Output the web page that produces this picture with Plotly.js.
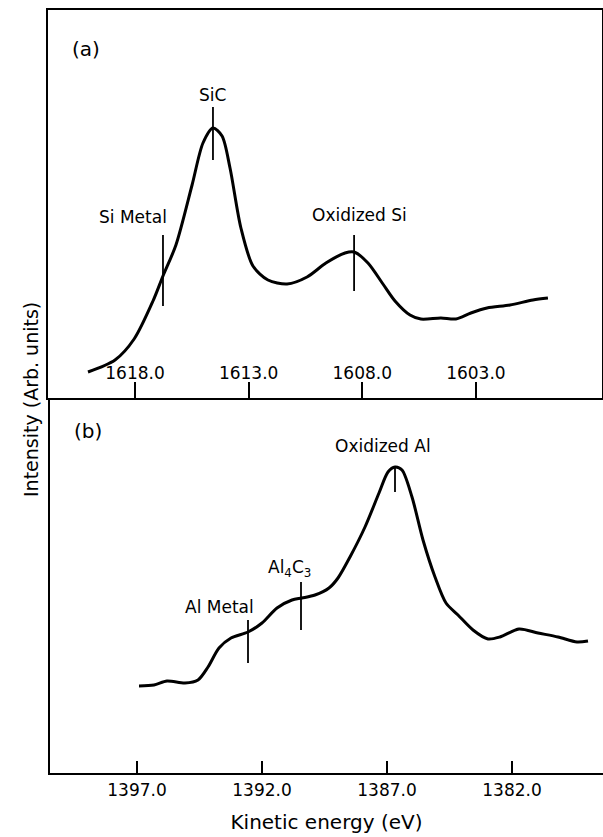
<!DOCTYPE html>
<html>
<head>
<meta charset="utf-8">
<script src="https://cdn.plot.ly/plotly-3.0.1.min.js"></script>
<style>html,body{margin:0;padding:0;background:#fff;}#chart{width:603px;height:837px;}</style>
</head>
<body>
<div id="chart"></div>
<script>
// Panel (a): Si LVV Auger spectrum
const siEnergy = [1620.07,1618.88,1618.04,1617.21,1616.77,1616.20,1615.49,1615.01,1614.57,1614.17,1613.82,1613.34,1612.81,1612.15,1611.31,1610.43,1609.60,1608.76,1608.36,1607.75,1607.09,1606.56,1605.90,1605.42,1604.54,1603.88,1603.22,1602.51,1601.50,1600.49,1599.83];
const siIntensity = [26,38,59,97,122,153,213,255,270,262,230,170,132,118,114,121,135,145,146,135,114,97,83,79,80,79,85,90,93,98,100];
const siTicks = [1618,1613,1608,1603];
const siPeakNames = ["Si Metal","SiC","Oxidized Si"];
const siPeakEnergy = [1616.77,1614.57,1608.36];
const siMarkLow = [92,238,107];
const siMarkHigh = [163,291,163];
const siLabelY = [181,303,183];
const siLabelE = [1618.1,1614.57,1608.1];

// Panel (b): Al Auger spectrum
const alEnergy = [1396.92,1396.32,1395.80,1395.08,1394.56,1394.16,1393.72,1393.24,1392.56,1392.00,1391.40,1390.80,1390.40,1389.88,1389.32,1388.96,1388.48,1387.88,1387.32,1386.96,1386.68,1386.40,1386.00,1385.56,1385.08,1384.64,1384.16,1383.56,1382.96,1382.48,1381.72,1380.96,1380.16,1379.40,1378.96];
const alIntensity = [87,88,92,90,93,106,125,135,141,150,165,173,175,178,185,195,216,246,280,301,306,303,276,233,196,170,158,143,134,136,144,140,136,131,132];
const alTicks = [1397,1392,1387,1382];
const alPeakNames = ["Al Metal","Al<sub>4</sub>C<sub>3</sub>","Oxidized Al"];
const alPeakEnergy = [1392.56,1390.44,1386.68];
const alMarkLow = [110,143,281];
const alMarkHigh = [153,191,307];
const alLabelY = [166,205,327];
const alLabelE = [1393.72,1390.92,1387.16];

const FONT = "DejaVu Sans";
const traces = [];
traces.push({x: siEnergy, y: siIntensity, xaxis:'x', yaxis:'y', mode:'lines',
  line:{color:'#000', width:3, shape:'spline', smoothing:0.8}, hoverinfo:'skip'});
traces.push({x: alEnergy, y: alIntensity, xaxis:'x2', yaxis:'y2', mode:'lines',
  line:{color:'#000', width:3, shape:'spline', smoothing:0.8}, hoverinfo:'skip'});
siPeakEnergy.forEach((e,i)=>traces.push({x:[e,e], y:[siMarkLow[i], siMarkHigh[i]], xaxis:'x', yaxis:'y',
  mode:'lines', line:{color:'#000', width:1.8}, hoverinfo:'skip'}));
alPeakEnergy.forEach((e,i)=>traces.push({x:[e,e], y:[alMarkLow[i], alMarkHigh[i]], xaxis:'x2', yaxis:'y2',
  mode:'lines', line:{color:'#000', width:1.8}, hoverinfo:'skip'}));

const annotations = [];
siPeakNames.forEach((n,i)=>annotations.push({text:n, x:siLabelE[i], y:siLabelY[i], xref:'x', yref:'y',
  showarrow:false, font:{family:FONT, size:17, color:'#000'}}));
alPeakNames.forEach((n,i)=>annotations.push({text:n, x:alLabelE[i], y:alLabelY[i], xref:'x2', yref:'y2',
  showarrow:false, font:{family:FONT, size:17, color:'#000'}}));
annotations.push({text:'(a)', x:70/603, y:1-35/837, xref:'paper', yref:'paper', showarrow:false,
  font:{family:FONT, size:20, color:'#000'}});
annotations.push({text:'(b)', x:72/603, y:1-431/837, xref:'paper', yref:'paper', showarrow:false,
  font:{family:FONT, size:20, color:'#000'}});
annotations.push({text:'Intensity (Arb. units)', x:18/603, y:1-400/837, xref:'paper', yref:'paper',
  showarrow:false, textangle:-90, font:{family:FONT, size:19, color:'#000'}});

const axisCommon = {showgrid:false, zeroline:false, showline:true, linecolor:'#000', linewidth:2,
  ticks:'inside', tickcolor:'#000', tickwidth:2, tickformat:'.1f',
  tickfont:{family:FONT, size:17, color:'#000'}};

const layout = {
  width:603, height:837, margin:{l:0, r:0, t:0, b:0}, showlegend:false,
  paper_bgcolor:'#fff', plot_bgcolor:'#fff',
  xaxis: Object.assign({}, axisCommon, {domain:[48/603, 602/603], range:[1621.83, 1597.45],
    tickvals: siTicks, ticklen:16, ticklabelposition:'inside', mirror:true, anchor:'y'}),
  yaxis: {domain:[1-398/837, 1-10/837], range:[0,388], showgrid:false, zeroline:false, showline:true,
    linecolor:'#000', linewidth:2, showticklabels:false, ticks:'', mirror:true, anchor:'x'},
  xaxis2: Object.assign({}, axisCommon, {domain:[50/603, 1], range:[1400.48, 1378.36],
    tickvals: alTicks, ticklen:12, anchor:'y2', ticklabelstandoff:1,
    title:{text:'Kinetic energy (eV)', font:{family:FONT, size:20, color:'#000'}, standoff:16}}),
  yaxis2: {domain:[1-773/837, 1-398/837], range:[0,375], showgrid:false, zeroline:false, showline:true,
    linecolor:'#000', linewidth:2, showticklabels:false, ticks:'', anchor:'x2'},
  annotations: annotations
};
Plotly.newPlot('chart', traces, layout, {staticPlot:true, displayModeBar:false});
</script>
</body>
</html>
